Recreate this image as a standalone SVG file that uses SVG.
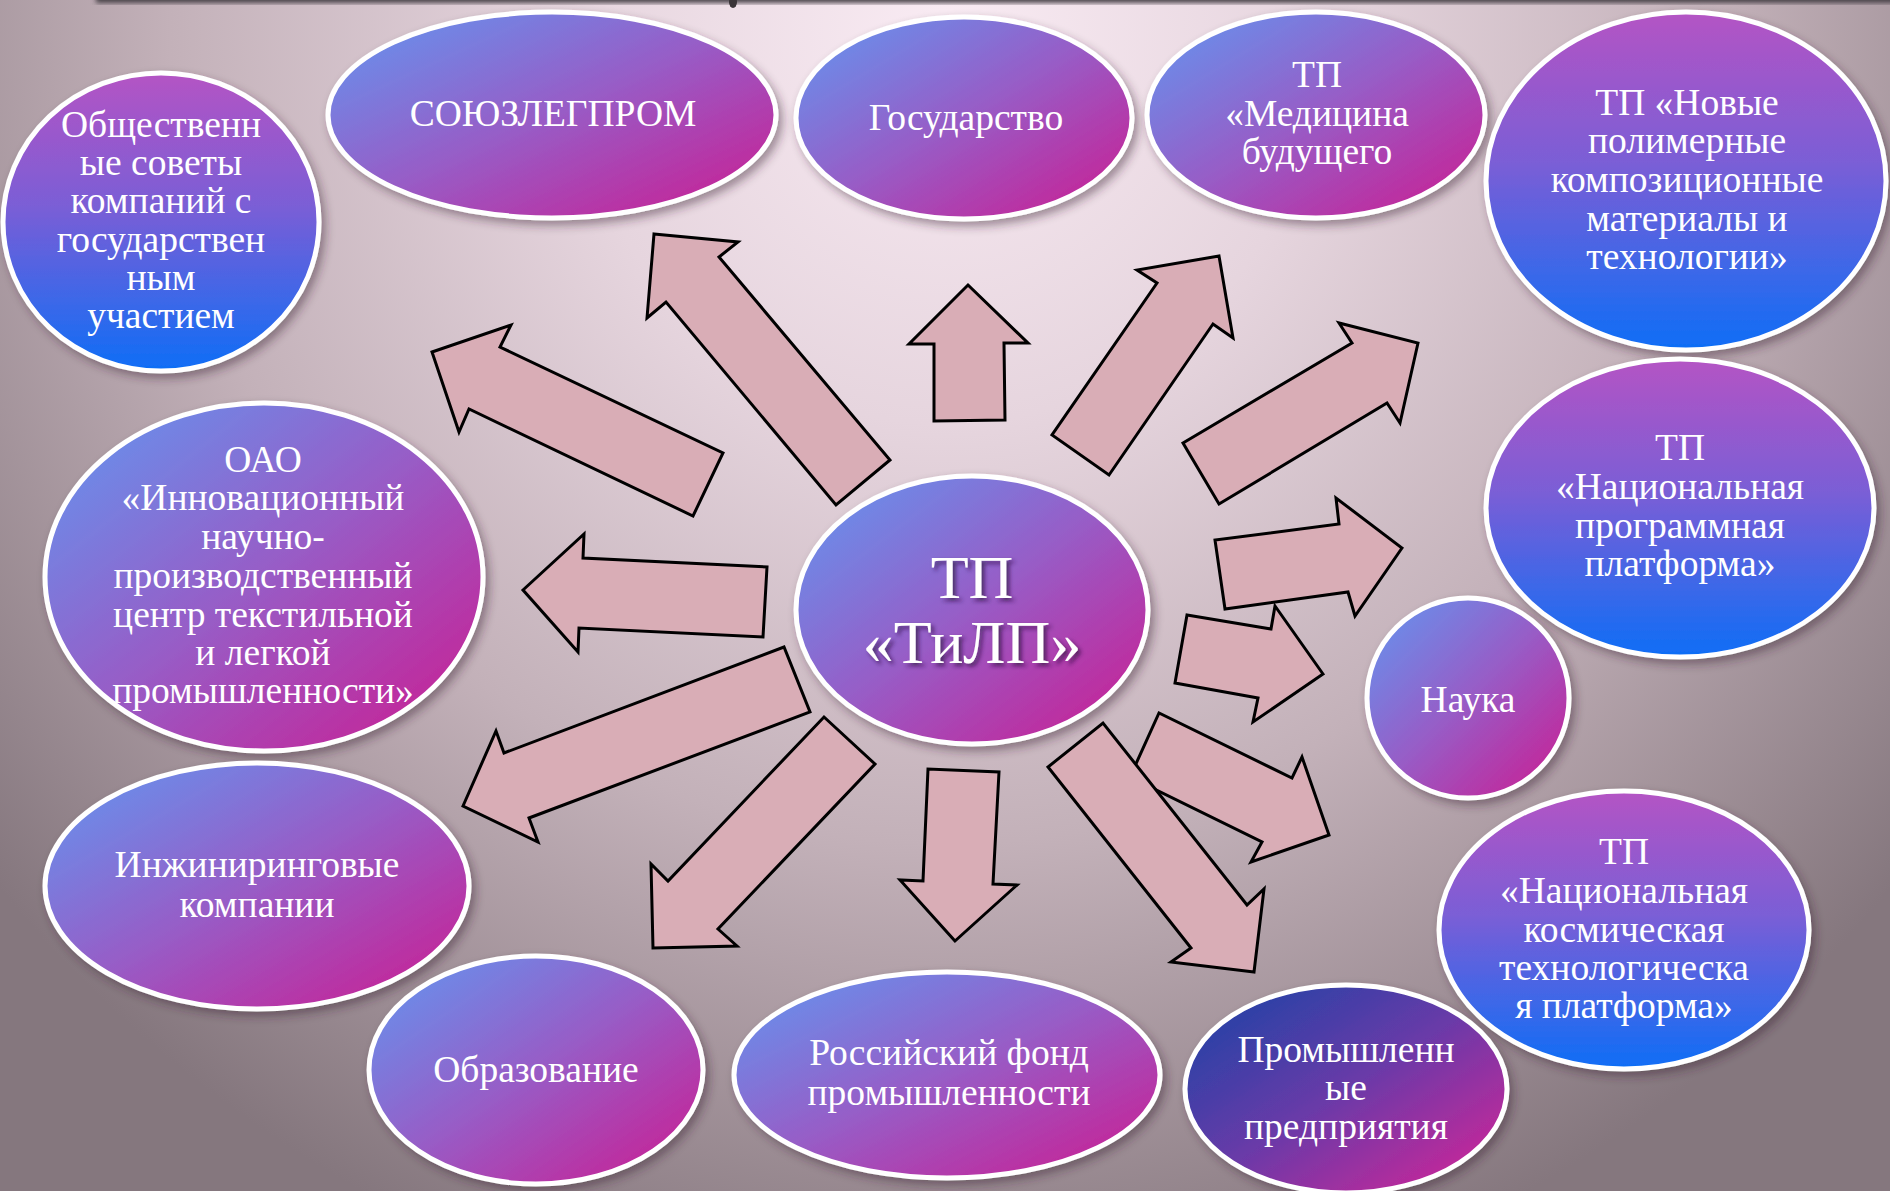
<svg xmlns="http://www.w3.org/2000/svg" width="1890" height="1191" viewBox="0 0 1890 1191">
<defs>
<radialGradient id="bg" gradientUnits="userSpaceOnUse" cx="945" cy="30" r="1250" gradientTransform="translate(945 30) scale(1 1.05) translate(-945 -30)">
<stop offset="0" stop-color="#f9ebf3"/>
<stop offset="0.3" stop-color="#e6d5de"/>
<stop offset="0.62" stop-color="#c3b1b9"/>
<stop offset="1" stop-color="#85777e"/>
</radialGradient>
<linearGradient id="gDiag" x1="0.1" y1="0.1" x2="0.9" y2="0.9">
<stop offset="0" stop-color="#6b8ce9"/>
<stop offset="0.5" stop-color="#985cc6"/>
<stop offset="1" stop-color="#c3269a"/>
</linearGradient>
<linearGradient id="gVert" x1="0" y1="0" x2="0" y2="1">
<stop offset="0" stop-color="#b454c4"/>
<stop offset="0.45" stop-color="#7a5ed6"/>
<stop offset="1" stop-color="#0e6ef6"/>
</linearGradient>
<linearGradient id="gDark" x1="0.1" y1="0.1" x2="0.9" y2="0.9">
<stop offset="0" stop-color="#2642a6"/>
<stop offset="0.5" stop-color="#6a3aa8"/>
<stop offset="1" stop-color="#c6289a"/>
</linearGradient>
<filter id="sh" x="-10%" y="-10%" width="125%" height="130%">
<feDropShadow dx="4" dy="5" stdDeviation="5" flood-color="#3a2030" flood-opacity="0.45"/>
</filter>
<filter id="tsh" x="-10%" y="-20%" width="130%" height="150%">
<feDropShadow dx="3" dy="3" stdDeviation="2" flood-color="#2a0a3a" flood-opacity="0.7"/>
</filter>
<filter id="blur"><feGaussianBlur stdDeviation="2.5"/></filter>
<style>
.el{stroke:#fff;stroke-width:5;filter:url(#sh)}
.d{fill:url(#gDiag)}
.v{fill:url(#gVert)}
.k{fill:url(#gDark)}
.lbl{fill:#fff;font-family:"Liberation Serif","Times New Roman",serif;font-size:37.5px;text-anchor:middle}
.big{font-size:62px;filter:url(#tsh)}
.arr{fill:#d9adb6;stroke:#000;stroke-width:3;stroke-linejoin:miter}
</style>
</defs>
<rect x="0" y="0" width="1890" height="1191" fill="url(#bg)"/>
<rect x="96" y="-12" width="1800" height="15" fill="#4a4248" filter="url(#blur)"/>
<ellipse cx="733" cy="2" rx="4" ry="6" fill="#3a3438"/>

<g id="connectors">
<polygon class="arr" points="654,234 738,242 719,257 890,460 836,505 666,302 647,318"/>
<polygon class="arr" points="432,352 511,325 500,347 723,453 693,516 469,409 459,432"/>
<polygon class="arr" points="968,285 1028,343 1004,343 1005,420 934,421 934,344 909,344"/>
<polygon class="arr" points="1219,256 1233,338 1213,324 1109,475 1052,435 1157,283 1137,270"/>
<polygon class="arr" points="1418,343 1400,423 1387,403 1219,504 1183,443 1352,343 1339,323"/>
<polygon class="arr" points="1402,548 1355,616 1348,592 1225,609 1215,540 1339,524 1336,498"/>
<polygon class="arr" points="1323,674 1253,722 1258,698 1175,683 1187,615 1271,629 1275,606"/>
<polygon class="arr" points="1329,835 1251,862 1262,842 1130,777 1159,713 1292,778 1302,757"/>
<polygon class="arr" points="1254,972 1171,962 1191,948 1048,767 1103,723 1247,905 1264,889"/>
<polygon class="arr" points="955,941 900,880 923,881 928,769 999,772 993,884 1017,885"/>
<polygon class="arr" points="653,948 651,864 668,881 824,717 875,764 718,929 737,946"/>
<polygon class="arr" points="463,806 496,731 504,753 784,647 810,712 529,818 538,842"/>
<polygon class="arr" points="523,590 584,534 583,558 767,567 763,637 579,628 578,652"/>
</g>

<g id="n-obshch">
<ellipse class="el v" cx="161" cy="222" rx="158" ry="149"/>
<text class="lbl" x="161" y="137">Общественн</text>
<text class="lbl" x="161" y="175">ые советы</text>
<text class="lbl" x="161" y="213">компаний с</text>
<text class="lbl" x="161" y="252">государствен</text>
<text class="lbl" x="161" y="290">ным</text>
<text class="lbl" x="161" y="328">участием</text>
</g>
<g id="n-soyuz">
<ellipse class="el d" cx="552" cy="115" rx="224" ry="103"/>
<text class="lbl" x="553" y="126">СОЮЗЛЕГПРОМ</text>
</g>
<g id="n-gos">
<ellipse class="el d" cx="964" cy="118" rx="168" ry="101"/>
<text class="lbl" x="966" y="130">Государство</text>
</g>
<g id="n-med">
<ellipse class="el d" cx="1316" cy="115" rx="169" ry="103"/>
<text class="lbl" x="1317" y="87">ТП</text>
<text class="lbl" x="1317" y="126">«Медицина</text>
<text class="lbl" x="1317" y="164">будущего</text>
</g>
<g id="n-polim">
<ellipse class="el v" cx="1686" cy="181" rx="200" ry="169"/>
<text class="lbl" x="1687" y="115">ТП «Новые</text>
<text class="lbl" x="1687" y="153">полимерные</text>
<text class="lbl" x="1687" y="192">композиционные</text>
<text class="lbl" x="1687" y="231">материалы и</text>
<text class="lbl" x="1687" y="269">технологии»</text>
</g>
<g id="n-oao">
<ellipse class="el d" cx="264" cy="577" rx="219" ry="174"/>
<text class="lbl" x="263" y="472">ОАО</text>
<text class="lbl" x="263" y="510">«Инновационный</text>
<text class="lbl" x="263" y="549">научно-</text>
<text class="lbl" x="263" y="588">производственный</text>
<text class="lbl" x="263" y="627">центр текстильной</text>
<text class="lbl" x="263" y="665">и легкой</text>
<text class="lbl" x="263" y="703">промышленности»</text>
</g>
<g id="n-nacprog">
<ellipse class="el v" cx="1680" cy="508" rx="194" ry="149"/>
<text class="lbl" x="1680" y="460">ТП</text>
<text class="lbl" x="1680" y="499">«Национальная</text>
<text class="lbl" x="1680" y="538">программная</text>
<text class="lbl" x="1680" y="576">платформа»</text>
</g>
<g id="n-center">
<ellipse class="el d" cx="972" cy="610" rx="176" ry="134"/>
<text class="lbl big" x="972" y="598">ТП</text>
<text class="lbl big" x="972" y="663">«ТиЛП»</text>
</g>
<g id="n-nauka">
<ellipse class="el d" cx="1468" cy="698" rx="101" ry="100"/>
<text class="lbl" x="1468" y="712">Наука</text>
</g>
<g id="n-inzh">
<ellipse class="el d" cx="257" cy="886" rx="212" ry="123"/>
<text class="lbl" x="257" y="877">Инжиниринговые</text>
<text class="lbl" x="257" y="917">компании</text>
</g>
<g id="n-kosm">
<ellipse class="el v" cx="1624" cy="930" rx="185" ry="139"/>
<text class="lbl" x="1624" y="864">ТП</text>
<text class="lbl" x="1624" y="903">«Национальная</text>
<text class="lbl" x="1624" y="942">космическая</text>
<text class="lbl" x="1624" y="980">технологическа</text>
<text class="lbl" x="1624" y="1018">я платформа»</text>
</g>
<g id="n-obraz">
<ellipse class="el d" cx="536" cy="1070" rx="167" ry="114"/>
<text class="lbl" x="536" y="1082">Образование</text>
</g>
<g id="n-rfond">
<ellipse class="el d" cx="947" cy="1075" rx="213" ry="103"/>
<text class="lbl" x="949" y="1065">Российский фонд</text>
<text class="lbl" x="949" y="1105">промышленности</text>
</g>
<g id="n-prom">
<ellipse class="el k" cx="1346" cy="1089" rx="161" ry="104"/>
<text class="lbl" x="1346" y="1062">Промышленн</text>
<text class="lbl" x="1346" y="1100">ые</text>
<text class="lbl" x="1346" y="1139">предприятия</text>
</g>
</svg>
